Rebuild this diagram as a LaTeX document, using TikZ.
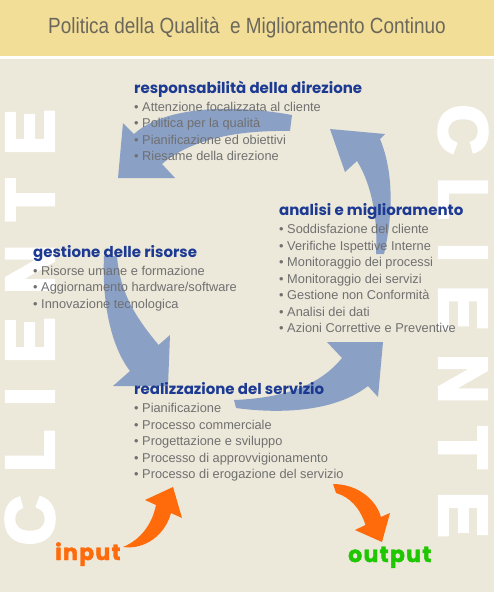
\documentclass[tikz,border=0pt]{standalone}
\usepackage{fontspec}
\usepackage{graphicx}
\setmainfont{Liberation Sans}
\newfontfamily\headfont{Poppins}
\newfontfamily\clfont{Liberation Sans}[BoldFeatures={FakeBold=5}]
\newfontfamily\iofont{Poppins}[BoldFeatures={FakeBold=2,LetterSpace=6}]
\definecolor{band}{HTML}{F2DE96}
\definecolor{bgbeige}{HTML}{ECE8DA}
\definecolor{titlegrey}{HTML}{6B675C}
\definecolor{headblue}{HTML}{1C3A92}
\definecolor{itemgrey}{HTML}{707070}
\definecolor{arrowblue}{HTML}{8AA0C5}
\definecolor{orangeA}{HTML}{FF6A0A}
\definecolor{greenO}{HTML}{1FC700}
\begin{document}
\begin{tikzpicture}[x=1pt,y=-1pt,
  headtxt/.style={anchor=base west,inner sep=0pt,text=headblue,font=\headfont\bfseries\fontsize{15}{18}\selectfont},
  itemtxt/.style={anchor=base west,inner sep=0pt,text=itemgrey,font=\fontsize{12.8}{15}\selectfont},
  bigarrow/.style={fill=arrowblue,draw=none},
  smallarrow/.style={fill=orangeA,draw=none},
  cletter/.style={inner sep=0pt,text=white,font=\clfont\bfseries\fontsize{68}{68}\selectfont},
  iotxt/.style={inner sep=0pt,anchor=base west,font=\iofont\bfseries\fontsize{22}{26}\selectfont}]
\useasboundingbox (0,0) rectangle (494,592);
\fill[bgbeige] (0,0) rectangle (494,592);
\fill[white] (0,55) rectangle (494,59);
\fill[band] (0,0) rectangle (494,56);
\node[inner sep=0pt,text=titlegrey,font=\fontsize{22}{26}\selectfont] (title) at (247,28)
  {\scalebox{0.86}[1]{Politica della Qualità\ \ e Miglioramento Continuo}};
% CLIENTE letters
\foreach \ch/\yy [count=\i] in {E/132.3,T/199.8,N/269.2,E/340.4,I/396.6,L/451,C/520.5}
  \node[cletter,rotate=90] (cl\i) at (30,\yy) {\ch};
\foreach \ch/\yy [count=\i] in {C/129.5,L/198.4,I/252.4,E/308.1,N/378.8,T/447.7,E/514.7}
  \node[cletter,rotate=-90] (cr\i) at (463,\yy) {\ch};
% big blue arrows
\fill[bigarrow] (292,115) .. controls (220,102) and (160,110) .. (134,134) -- (123,123) -- (118,178) -- (175,178) -- (162,164) .. controls (190,140) and (235,130) .. (290,131) -- cycle;
\fill[bigarrow] (104,256) .. controls (102,300) and (110,345) .. (130,371) -- (113,386) -- (168,386) -- (170,335) -- (158.6,345) .. controls (138,320) and (120,295) .. (117,256) -- cycle;
\fill[bigarrow] (234,400) .. controls (285,398) and (320,385) .. (342,358) -- (327,342) -- (383,342) -- (378,397) -- (368,386) .. controls (335,412) and (280,414) .. (236,408) -- cycle;
\fill[bigarrow] (384,254) .. controls (392,220) and (395,175) .. (380,139) -- (385,134) -- (330,129) -- (345,172) -- (357,161) .. controls (372,185) and (378,220) .. (376,254) -- cycle;
% orange arrows
\fill[smallarrow] (123,547) .. controls (140,540) and (152,525) .. (156,505) -- (145,500) -- (173,487) -- (182,518) -- (171,513) .. controls (165,535) and (145,550) .. (123,547) -- cycle;
\fill[smallarrow] (333,484) .. controls (355,484) and (375,497) .. (381,517) -- (390,513) -- (382,542) -- (355,530) -- (365.5,525) .. controls (360,508) and (350,497) .. (336,493) -- cycle;
% text blocks
\node[headtxt] (h1) at (134,93.5) {responsabilità della direzione};
\foreach \t [count=\i from 0] in {Attenzione focalizzata al cliente,Politica per la qualità,Pianificazione ed obiettivi,Riesame della direzione}
  \node[itemtxt] (a\i) at (134,111+16.6*\i) {•\ \t};
\node[headtxt] (h2) at (279,215) {analisi e miglioramento};
\foreach \t [count=\i from 0] in {Soddisfazione del cliente,Verifiche Ispettive Interne,Monitoraggio dei processi,Monitoraggio dei servizi,Gestione non Conformità,Analisi dei dati,Azioni Correttive e Preventive}
  \node[itemtxt] (b\i) at (279,233.5+16.5*\i) {•\ \t};
\node[headtxt] (h3) at (33,257.5) {gestione delle risorse};
\foreach \t [count=\i from 0] in {Risorse umane e formazione,Aggiornamento hardware/software,Innovazione tecnologica}
  \node[itemtxt] (c\i) at (33,275+16.5*\i) {•\ \t};
\node[headtxt] (h4) at (134,394.5) {realizzazione del servizio};
\foreach \t [count=\i from 0] in {Pianificazione,Processo commerciale,Progettazione e sviluppo,Processo di approvvigionamento,Processo di erogazione del servizio}
  \node[itemtxt] (d\i) at (134,412.5+16.5*\i) {•\ \t};
\node[iotxt,text=orangeA] (in) at (55,560) {input};
\node[iotxt,text=greenO] (out) at (348,562) {output};
\end{tikzpicture}
\end{document}
